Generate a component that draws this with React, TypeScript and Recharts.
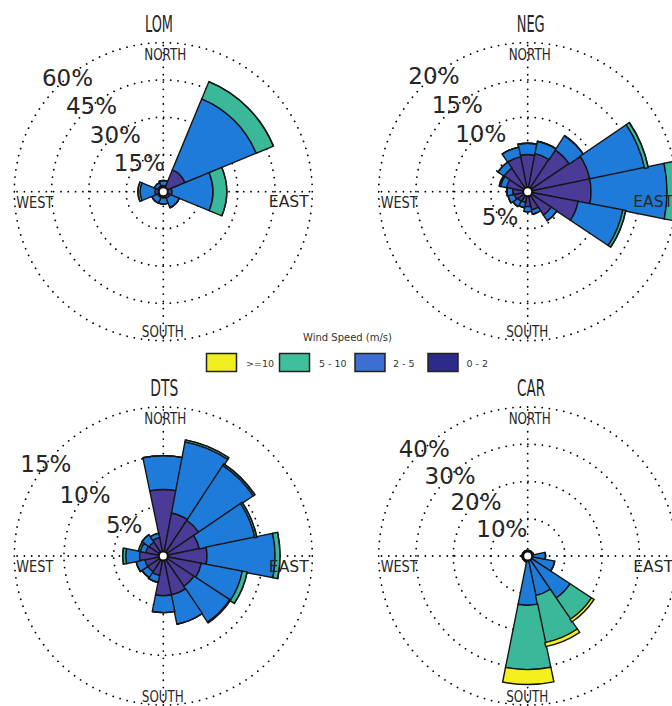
import React from 'react';
import { RadialBarChart, RadialBar, PolarGrid, PolarAngleAxis, PolarRadiusAxis } from 'recharts';

// compass sectors
const DIRS_16 = ['N', 'NNE', 'NE', 'ENE', 'E', 'ESE', 'SE', 'SSE', 'S', 'SSW', 'SW', 'WSW', 'W', 'WNW', 'NW', 'NNW'];
const DIRS_8 = ['N', 'NE', 'E', 'SE', 'S', 'SW', 'W', 'NW'];

// frequency (%) per speed bin: 0-2, 2-5, 5-10, >=10 m/s
const lom02 = [2.5, 9.5, 3.5, 3.0, 2.5, 2.5, 3.4, 2.5];
const lom25 = [2.0, 31.0, 16.5, 4.0, 2.5, 2.5, 5.9, 1.5];
const lom510 = [0, 7.5, 5.5, 0, 0, 0, 0.9, 0];
const lom10 = [0, 0, 0, 0, 0, 0, 0, 0];

const neg02 = [5.0, 5.2, 6.7, 8.5, 8.5, 6.9, 3.8, 2.5, 2.0, 1.5, 1.6, 1.8, 2.0, 2.9, 3.8, 4.8];
const neg25 = [1.5, 1.7, 2.3, 7.5, 10.2, 6.1, 0.9, 0.6, 0.7, 0.7, 0.8, 0.9, 0.8, 0.8, 1.0, 1.3];
const neg510 = [0, 0, 0, 0.5, 1.8, 0.4, 0, 0, 0, 0, 0, 0, 0, 0.2, 0, 0];
const neg10 = [0, 0, 0, 0, 0, 0, 0, 0, 0, 0, 0, 0, 0, 0, 0, 0];

const dts02 = [6.7, 4.4, 4.3, 3.7, 4.4, 3.9, 3.7, 4.0, 4.0, 2.0, 1.9, 1.9, 2.4, 1.8, 1.7, 1.9];
const dts25 = [3.4, 7.3, 6.6, 5.7, 6.85, 4.2, 4.3, 3.0, 1.7, 0.7, 0.7, 0.9, 1.4, 0.55, 0.9, 0.45];
const dts510 = [0, 0.2, 0.2, 0.2, 0.5, 0.5, 0.1, 0, 0, 0, 0, 0, 0.3, 0.2, 0, 0];
const dts10 = [0, 0, 0, 0, 0, 0, 0, 0, 0, 0, 0, 0, 0, 0, 0, 0];

const car02 = [1.0, 1.0, 1.0, 1.0, 1.0, 1.0, 1.0, 1.0, 1.0, 1.0, 1.0, 1.0, 1.0, 1.0, 1.0, 1.0];
const car25 = [0.5, 0.5, 0.5, 0.6, 3.8, 6.4, 12.6, 9.8, 12.2, 0.6, 0.5, 0.5, 0.5, 0.5, 0.5, 0.5];
const car510 = [0, 0, 0, 0, 0, 0, 6.9, 12.9, 17.3, 0, 0, 0, 0, 0, 0, 0];
const car10 = [0, 0, 0, 0, 0, 0, 0.8, 1.1, 4.0, 0, 0, 0, 0, 0, 0, 0];

const lomTicks = [15, 30, 45, 60];
const negTicks = [5, 10, 15, 20];
const dtsTicks = [5, 10, 15];
const carTicks = [10, 20, 30, 40];

const BINS = [
  { key: 'b0', label: '0 - 2', fill: '#4a3b97', swatch: '#2c2b8a' },
  { key: 'b1', label: '2 - 5', fill: '#1f7bd9', swatch: '#3c6fcf' },
  { key: 'b2', label: '5 - 10', fill: '#3bb899', swatch: '#40bf9c' },
  { key: 'b3', label: '>=10', fill: '#f3f01d', swatch: '#efef20' },
];

const COMPASS: Record<string, { text: string; dx: number; dy: number; w: number }> = {
  N: { text: 'NORTH', dx: 2, dy: -132, w: 42 },
  E: { text: 'EAST', dx: 125.5, dy: 15.5, w: 40 },
  S: { text: 'SOUTH', dx: -0.5, dy: 145.5, w: 42 },
  W: { text: 'WEST', dx: -128.5, dy: 16, w: 37 },
};

const INK = '#262626';
const FONT = '"DejaVu Sans", sans-serif';
const PANEL_W = 336;
const PANEL_H = 353;
const R = 149;

type Panel = {
  name: string;
  dirs: string[];
  bins: number[][];
  max: number;
  ticks: number[];
  labelAngle: number;
  left: number;
  top: number;
  cx: number;
  cy: number;
  titleX: number;
  titleY: number;
  moved?: { value: number; angle: number };
};

const PANELS: Panel[] = [
  { name: 'LOM', dirs: DIRS_8, bins: [lom02, lom25, lom510, lom10], max: 60, ticks: lomTicks, labelAngle: 130, left: 0, top: 0, cx: 163.3, cy: 191.7, titleX: 159, titleY: 32 },
  { name: 'NEG', dirs: DIRS_16, bins: [neg02, neg25, neg510, neg10], max: 20, ticks: negTicks, labelAngle: 129, left: 336, top: 0, cx: 191.7, cy: 191.7, titleX: 530.7, titleY: 32, moved: { value: 5, angle: 222 } },
  { name: 'DTS', dirs: DIRS_16, bins: [dts02, dts25, dts510, dts10], max: 15, ticks: dtsTicks, labelAngle: 142, left: 0, top: 353, cx: 163.3, cy: 203, titleX: 164.3, titleY: 396 },
  { name: 'CAR', dirs: DIRS_16, bins: [car02, car25, car510, car10], max: 40, ticks: carTicks, labelAngle: 134, left: 336, top: 353, cx: 191.7, cy: 203, titleX: 531, titleY: 396 },
];

const Rose = ({ panel }: { panel: Panel }) => {
  const rows = panel.dirs.map((dir, i) => ({
    dir,
    b0: panel.bins[0][i],
    b1: panel.bins[1][i],
    b2: panel.bins[2][i],
    b3: panel.bins[3][i],
  }));
  // first sector (N) is centred on 90deg, sectors run clockwise
  const half = 180 / panel.dirs.length;
  const { cx, cy } = panel;

  const angleTick = (props: any) => {
    const c = COMPASS[props.payload.value];
    if (!c) return <g />;
    return (
      <text x={cx + c.dx} y={cy + c.dy} textAnchor="middle" fontSize={16} fontFamily={FONT} fill={INK}
        textLength={c.w} lengthAdjust="spacingAndGlyphs">
        {c.text}
      </text>
    );
  };

  const radiusTick = (props: any) => {
    const v = props.payload.value;
    if (!v) return <g />;
    let { x, y } = props;
    if (panel.moved && panel.moved.value === v) {
      const r = Math.hypot(x - cx, y - cy);
      const a = (panel.moved.angle * Math.PI) / 180;
      x = cx + r * Math.cos(a);
      y = cy - r * Math.sin(a);
    }
    return (
      <text x={x} y={y} textAnchor="middle" dominantBaseline="central" fontSize={23} fontFamily={FONT} fill={INK}>
        {v}%
      </text>
    );
  };

  return (
    <div style={{ position: 'absolute', left: panel.left, top: panel.top }}>
      <RadialBarChart
        width={PANEL_W}
        height={PANEL_H}
        cx={cx}
        cy={cy}
        data={rows}
        layout="centric"
        innerRadius={0}
        outerRadius={R}
        startAngle={90 - half}
        endAngle={90 - half - 360}
        barCategoryGap={0}
        barGap={0}
      >
        <PolarGrid gridType="circle" polarAngles={[0, 90, 180, 270]} stroke="#000" strokeWidth={1.8}
          strokeDasharray="0.01 7.3" strokeLinecap="round" />
        {BINS.map(b => (
          <RadialBar key={b.key} dataKey={b.key} stackId="speed" fill={b.fill} stroke="#151515"
            strokeWidth={1.4} isAnimationActive={false} />
        ))}
        <PolarAngleAxis dataKey="dir" type="category" axisLine={false} tickLine={false} tick={angleTick} />
        <PolarRadiusAxis type="number" domain={[0, panel.max]} ticks={panel.ticks} angle={panel.labelAngle}
          axisLine={false} tick={radiusTick} />
      </RadialBarChart>
    </div>
  );
};

const legendOrder = [BINS[3], BINS[2], BINS[1], BINS[0]];
const swatchX = [206.5, 279.5, 355, 428];
const labelX = [246, 319, 393, 466.5];

export default function App() {
  return (
    <div style={{ position: 'absolute', left: 0, top: 0, width: 672, height: 706, overflow: 'hidden', background: '#fff' }}>
      {PANELS.map(p => <Rose key={p.name} panel={p} />)}
      <svg width={672} height={706} style={{ position: 'absolute', left: 0, top: 0, pointerEvents: 'none' }}>
        {PANELS.map(p => (
          <g key={p.name}>
            <circle cx={p.left + p.cx} cy={p.top + p.cy} r={4.5} fill="#fff" stroke="#111" strokeWidth={2} />
            <text x={p.titleX} y={p.titleY} textAnchor="middle" fontSize={23} fontFamily={FONT} fill={INK}
              textLength={28} lengthAdjust="spacingAndGlyphs">
              {p.name}
            </text>
          </g>
        ))}
        <text x={347.5} y={341} textAnchor="middle" fontSize={10} fontFamily={FONT} fill="#333">
          Wind Speed (m/s)
        </text>
        {legendOrder.map((b, i) => (
          <g key={b.key}>
            <rect x={swatchX[i]} y={353.5} width={30} height={18} fill={b.swatch} stroke="#222" strokeWidth={1.5} />
            <text x={labelX[i]} y={367} fontSize={9.5} fontFamily={FONT} fill="#333">{b.label}</text>
          </g>
        ))}
      </svg>
    </div>
  );
}
